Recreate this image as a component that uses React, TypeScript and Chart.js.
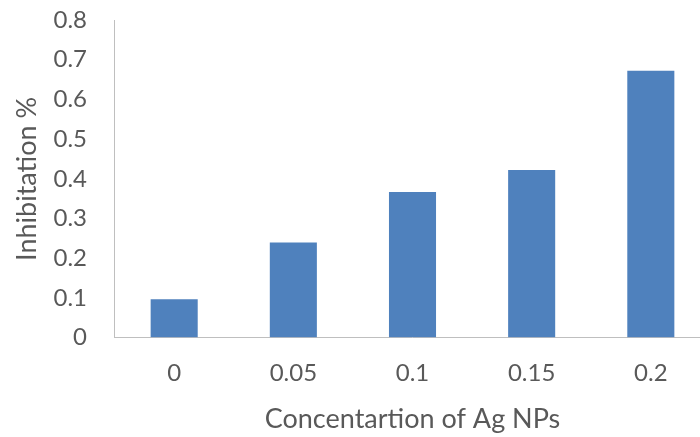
import React, { useEffect, useRef } from "react";
import { Chart, registerables } from "chart.js";

Chart.register(...registerables);

const categories = ["0", "0.05", "0.1", "0.15", "0.2"];
const inhibition = [0.097, 0.24, 0.367, 0.422, 0.672];
const yTicks = [0, 0.1, 0.2, 0.3, 0.4, 0.5, 0.6, 0.7, 0.8];

const FONT = "Lato, 'Open Sans', sans-serif";
const TEXT = "#595959";
const AXIS = "#bfbfbf";

export default function App() {
  const ref = useRef<HTMLCanvasElement | null>(null);

  useEffect(() => {
    if (!ref.current) return;
    const chart = new Chart(ref.current, {
      type: "bar",
      data: {
        labels: categories,
        datasets: [
          {
            data: inhibition,
            backgroundColor: "#4f81bd",
            borderWidth: 0,
            barPercentage: 0.395,
            categoryPercentage: 1,
          },
        ],
      },
      options: {
        responsive: false,
        animation: false,
        devicePixelRatio: 1,
        layout: { padding: { left: 0, right: 9.6, top: 20, bottom: 0 } },
        plugins: { legend: { display: false }, tooltip: { enabled: false } },
        scales: {
          x: {
            offset: true,
            grid: {
              display: true,
              drawOnChartArea: false,
              drawTicks: true,
              tickLength: 21.6,
              color: "rgba(0,0,0,0)",
            },
            border: { display: true, color: AXIS, width: 1 },
            ticks: {
              color: TEXT,
              font: { family: FONT, size: 24 },
              padding: 0,
              maxRotation: 0,
            },
            title: {
              display: true,
              text: "Concentartion of Ag NPs",
              color: TEXT,
              font: { family: FONT, size: 27 },
              padding: { top: 0, bottom: 1.8 },
            },
            afterFit: (s: any) => {
              s.height = 99.3;
            },
          },
          y: {
            min: 0,
            max: 0.8,
            afterBuildTicks: (s: any) => {
              s.ticks = yTicks.map((v) => ({ value: v }));
            },
            grid: {
              display: true,
              drawOnChartArea: false,
              drawTicks: true,
              tickLength: 27.6,
              color: "rgba(0,0,0,0)",
            },
            border: { display: true, color: AXIS, width: 1 },
            ticks: {
              color: TEXT,
              font: { family: FONT, size: 24 },
              padding: 0,
              callback: (v: any) => (Number(v) === 0 ? "0" : Number(v).toFixed(1)),
            },
            title: {
              display: true,
              text: "Inhibitation %",
              color: TEXT,
              font: { family: FONT, size: 27 },
              padding: { top: 10.8, bottom: 0 },
            },
            afterFit: (s: any) => {
              s.width = 114.6;
            },
          },
        },
      },
    });
    return () => chart.destroy();
  }, []);

  return (
    <div
      style={{
        position: "absolute",
        left: 0,
        top: 0,
        width: 700,
        height: 437,
        overflow: "hidden",
        background: "#fff",
      }}
    >
      <canvas ref={ref} width={720} height={437} style={{ display: "block" }} />
    </div>
  );
}
